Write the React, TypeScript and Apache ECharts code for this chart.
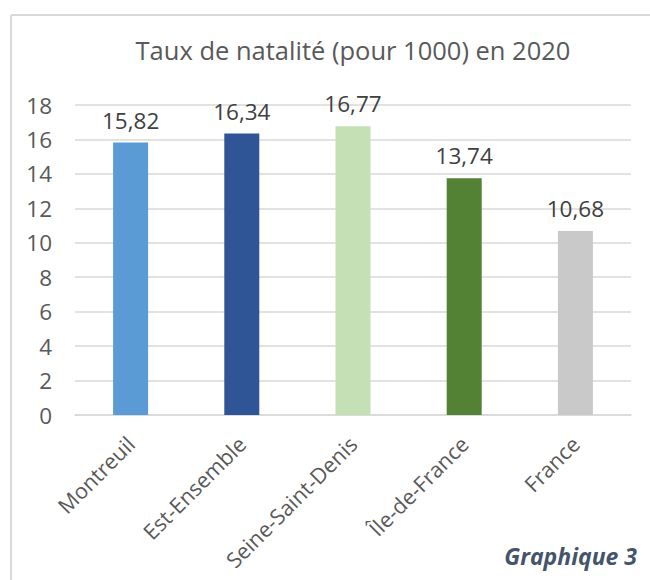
import React, { useEffect, useRef } from "react";
import * as echarts from "echarts";

const categories = ["Montreuil", "Est-Ensemble", "Seine-Saint-Denis", "Île-de-France", "France"];
const values = [15.82, 16.34, 16.77, 13.74, 10.68];
const barColors = ["#5B9BD5", "#2F5597", "#C5E0B4", "#548235", "#C9C9C9"];
const titleText = "Taux de natalité (pour 1000) en 2020";
const captionText = "Graphique 3";

const FONT = "'Open Sans', 'Noto Sans', sans-serif";

export default function App() {
  const ref = useRef<HTMLDivElement>(null);
  useEffect(() => {
    if (!ref.current) return;
    const chart = echarts.init(ref.current, null, { renderer: "svg" });
    chart.setOption({
      animation: false,
      backgroundColor: "#ffffff",
      textStyle: { fontFamily: FONT },
      title: {
        text: titleText,
        left: 348,
        textAlign: "center",
        top: 32,
        textStyle: { fontFamily: FONT, fontSize: 25.5, fontWeight: "normal", color: "#595959" },
      },
      grid: { left: 75, right: 19, top: 105, bottom: 165, containLabel: false },
      xAxis: {
        type: "category",
        data: categories,
        axisLine: { lineStyle: { color: "#D9D9D9", width: 1.5 } },
        axisTick: { show: false },
        axisLabel: {
          rotate: 45,
          interval: 0,
          margin: 25,
          fontFamily: FONT,
          fontSize: 21.5,
          color: "#595959",
        },
      },
      yAxis: {
        type: "value",
        min: 0,
        max: 18,
        interval: 2,
        axisLine: { show: false },
        axisTick: { show: false },
        splitLine: { lineStyle: { color: "#D9D9D9", width: 1.5 } },
        axisLabel: { margin: 23, fontFamily: FONT, fontSize: 22.5, color: "#595959" },
      },
      series: [
        {
          type: "bar",
          barWidth: 35,
          data: values.map((v, i) => ({ value: v, itemStyle: { color: barColors[i] } })),
          label: {
            show: true,
            position: "top",
            distance: 11,
            fontFamily: FONT,
            fontSize: 22.5,
            color: "#404040",
            formatter: (p: any) => Number(p.value).toFixed(2).replace(".", ","),
          },
        },
      ],
      graphic: [
        { type: "line", shape: { x1: 11, y1: 15, x2: 650, y2: 15 }, style: { stroke: "#D9D9D9", lineWidth: 2 } },
        { type: "line", shape: { x1: 11, y1: 15, x2: 11, y2: 580 }, style: { stroke: "#D9D9D9", lineWidth: 2 } },
        {
          type: "text",
          x: 637,
          y: 567,
          style: {
            text: captionText,
            align: "right",
            verticalAlign: "bottom",
            fontFamily: FONT,
            fontSize: 23,
            fontWeight: "bold",
            fontStyle: "italic",
            fill: "#44546A",
          },
        },
      ],
    });
    return () => chart.dispose();
  }, []);
  return <div ref={ref} style={{ position: "fixed", left: 0, top: 0, width: 650, height: 580 }} />;
}
